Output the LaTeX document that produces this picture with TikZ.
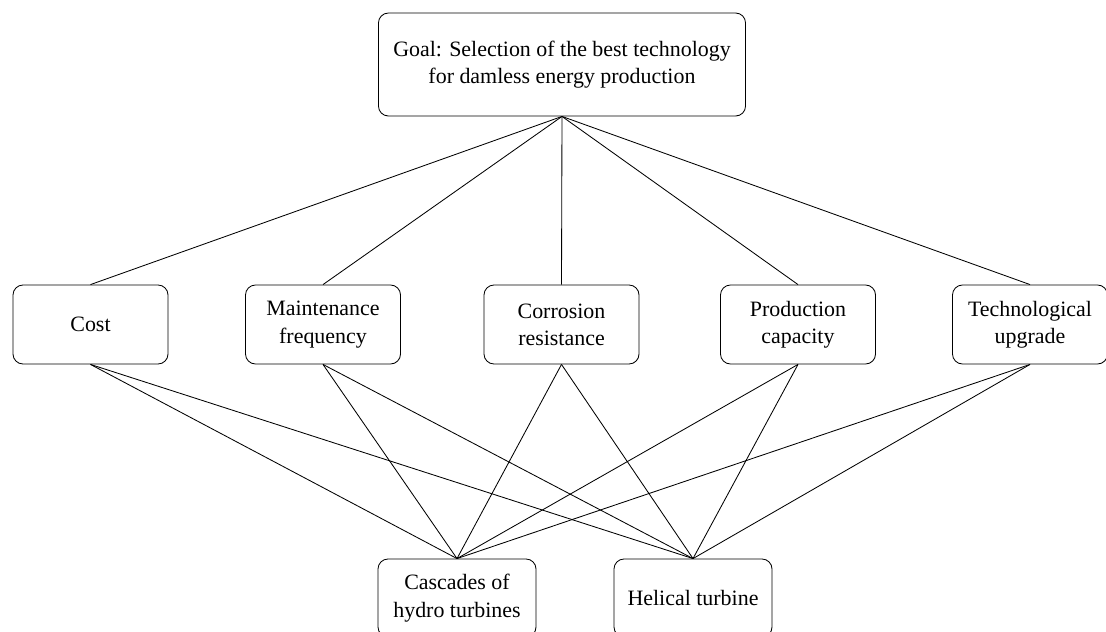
\documentclass[tikz,border=0pt]{standalone}
\usepackage{fontspec}
\setmainfont{Liberation Serif}
\usepackage{tikz}

\begin{document}
\begin{tikzpicture}[x=0.025cm, y=-0.025cm, line width=0.6pt,
	box/.style = {draw, rounded corners=0.25cm, align=center, inner sep=2pt,
		font=\fontsize{15.6}{19.4}\selectfont, minimum height=1.975cm, minimum width=3.875cm}]
	\useasboundingbox (0,0) rectangle (1106,632);
	% goal
	\node [box, minimum width=9.175cm, minimum height=2.575cm] (goal) at (562,64.5)
		{Goal: Selection of the best technology\\for damless energy production};
	% criteria
	\node [box] (cost) at (90.5,324.5) {Cost};
	\node [box] (maint) at (323,324.5) {Maintenance\\frequency};
	\node [box] (corr) at (561.5,324.5) {Corrosion\\resistance};
	\node [box] (prod) at (798,324.5) {Production\\capacity};
	\node [box] (tech) at (1030,324.5) {Technological\\upgrade};
	% alternatives
	\node [box, minimum width=3.95cm, minimum height=1.95cm] (casc) at (457,598) {Cascades of\\hydro turbines};
	\node [box, minimum width=3.95cm, minimum height=1.95cm] (helic) at (693,598) {Helical turbine};
	\foreach \c in {cost,maint,corr,prod,tech}{
		\draw (goal.south) -- (\c.north);
		\draw (\c.south) -- (casc.north);
		\draw (\c.south) -- (helic.north);
	}
\end{tikzpicture}
\end{document}
